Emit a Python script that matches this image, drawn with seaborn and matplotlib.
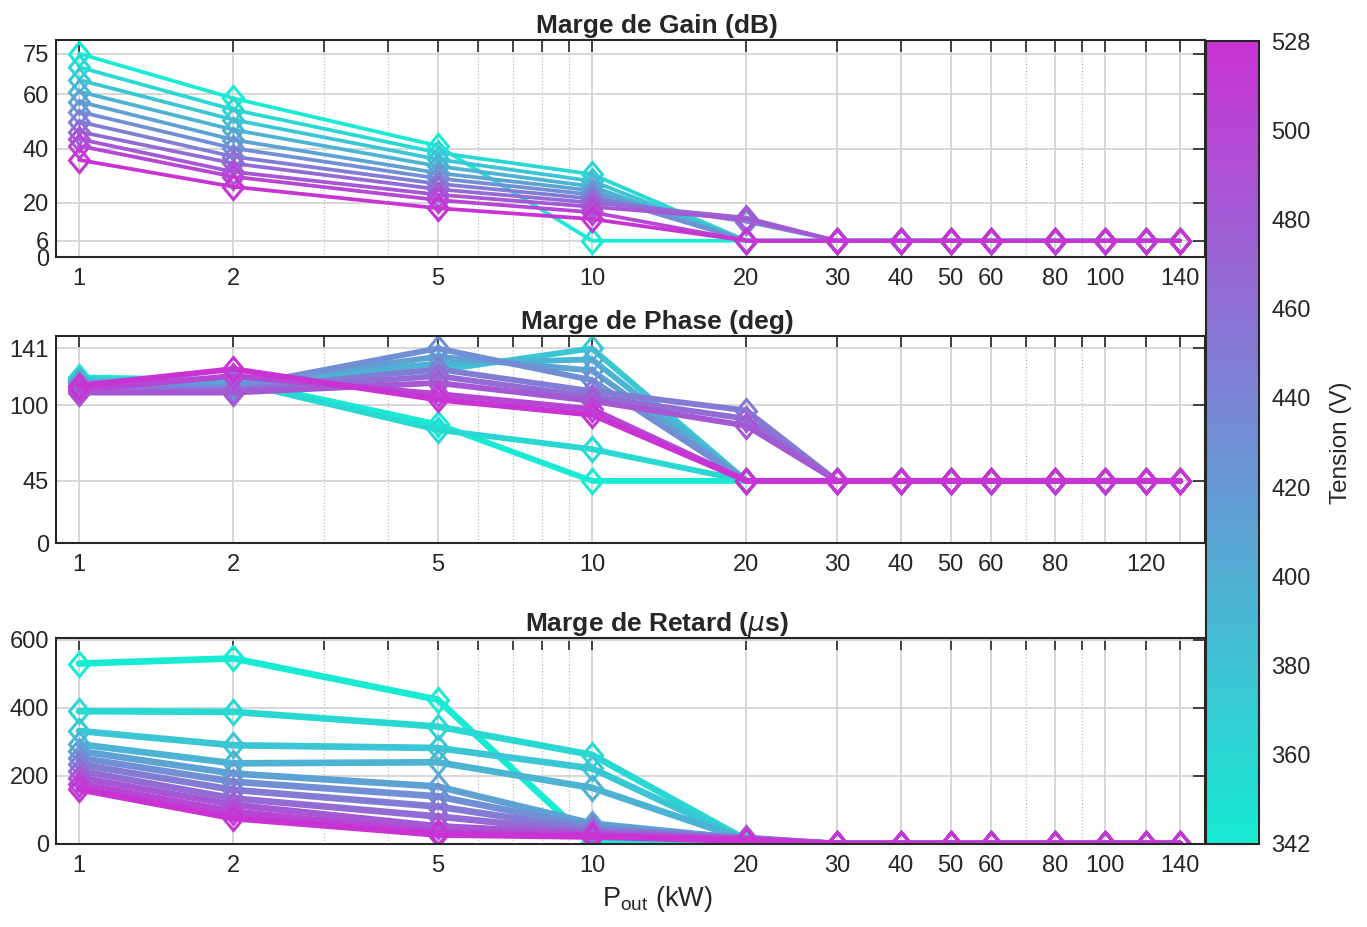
import pandas as pd
import matplotlib
matplotlib.use("Agg")
import matplotlib.pyplot as plt
import seaborn as sns
from matplotlib.colors import LinearSegmentedColormap, Normalize
from matplotlib.cm import ScalarMappable
from matplotlib.markers import MarkerStyle
from matplotlib.transforms import Affine2D
from matplotlib.ticker import FixedLocator, FixedFormatter, NullFormatter

# Puissance de sortie (kW)
p_out = [1, 2, 5, 10, 20, 30, 40, 50, 60, 80, 100, 120, 140]

# Tension du bus (V), une courbe par tension
tension = [342, 361, 379, 398, 416, 435, 454, 472, 491, 509, 528]

# Marge de gain (dB)
gain_db = [
    [75.0, 58.5, 41.0, 6.0, 6.0, 6, 6, 6, 6, 6, 6, 6, 6],
    [70.0, 54.3, 38.5, 30.5, 6.0, 6, 6, 6, 6, 6, 6, 6, 6],
    [65.3, 50.6, 36.0, 28.0, 6.0, 6, 6, 6, 6, 6, 6, 6, 6],
    [61.0, 46.9, 33.5, 26.0, 6.0, 6, 6, 6, 6, 6, 6, 6, 6],
    [57.3, 43.2, 31.0, 24.5, 6.0, 6, 6, 6, 6, 6, 6, 6, 6],
    [53.6, 40.1, 29.0, 23.0, 6.0, 6, 6, 6, 6, 6, 6, 6, 6],
    [49.9, 37.0, 27.0, 21.5, 13.0, 6, 6, 6, 6, 6, 6, 6, 6],
    [46.2, 34.5, 25.0, 20.0, 14.5, 6, 6, 6, 6, 6, 6, 6, 6],
    [43.5, 31.4, 23.0, 18.5, 14.0, 6, 6, 6, 6, 6, 6, 6, 6],
    [41.0, 29.6, 21.0, 16.5, 6.0, 6, 6, 6, 6, 6, 6, 6, 6],
    [35.8, 25.9, 18.0, 14.0, 6.0, 6, 6, 6, 6, 6, 6, 6, 6],
]

# Marge de phase (deg)
phase_deg = [
    [120, 118, 86, 45, 45, 45, 45, 45, 45, 45, 45, 45, 45],
    [119, 117, 82, 68, 45, 45, 45, 45, 45, 45, 45, 45, 45],
    [118, 116, 125, 141, 45, 45, 45, 45, 45, 45, 45, 45, 45],
    [117, 116, 130, 133, 45, 45, 45, 45, 45, 45, 45, 45, 45],
    [116, 115, 135, 125, 45, 45, 45, 45, 45, 45, 45, 45, 45],
    [114, 113, 141, 118, 45, 45, 45, 45, 45, 45, 45, 45, 45],
    [112, 111, 126, 110, 96, 45, 45, 45, 45, 45, 45, 45, 45],
    [110, 110, 121, 106, 90, 45, 45, 45, 45, 45, 45, 45, 45],
    [109, 109, 116, 103, 85, 45, 45, 45, 45, 45, 45, 45, 45],
    [111, 121, 108, 97, 45, 45, 45, 45, 45, 45, 45, 45, 45],
    [114, 126, 104, 93, 45, 45, 45, 45, 45, 45, 45, 45, 45],
]

# Marge de retard (us)
retard_us = [
    [530, 545, 424, 5, 3, 0, 0, 0, 0, 0, 0, 0, 0],
    [390, 388, 345, 262, 12, 0, 0, 0, 0, 0, 0, 0, 0],
    [332, 290, 282, 222, 10, 0, 0, 0, 0, 0, 0, 0, 0],
    [293, 237, 240, 165, 12, 0, 0, 0, 0, 0, 0, 0, 0],
    [273, 207, 169, 60, 15, 0, 0, 0, 0, 0, 0, 0, 0],
    [253, 183, 140, 50, 14, 0, 0, 0, 0, 0, 0, 0, 0],
    [234, 159, 110, 42, 18, 0, 0, 0, 0, 0, 0, 0, 0],
    [215, 134, 81, 35, 16, 0, 0, 0, 0, 0, 0, 0, 0],
    [195, 115, 52, 30, 14, 0, 0, 0, 0, 0, 0, 0, 0],
    [176, 95, 35, 25, 12, 0, 0, 0, 0, 0, 0, 0, 0],
    [161, 76, 28, 22, 10, 0, 0, 0, 0, 0, 0, 0, 0],
]

xticks_main = [1, 2, 5, 10, 20, 30, 40, 50, 60, 80, 100, 120, 140]
xlabels_gain = ["1", "2", "5", "10", "20", "30", "40", "50", "60", "80", "100", "", "140"]
xlabels_phase = ["1", "2", "5", "10", "20", "30", "40", "50", "60", "80", "", "120", ""]
xminor = [3, 4, 6, 7, 8, 9, 70, 90]

# graduations de la barre de couleur (positions / libelles)
cbar_ticks = [340, 360, 380, 400, 420, 440, 460, 480, 500, 520]
cbar_labels = ["342", "360", "380", "400", "420", "440", "460", "480", "500", "528"]


def to_long(values):
    rows = []
    for v, serie in zip(tension, values):
        for p, y in zip(p_out, serie):
            rows.append({"p_out": p, "valeur": y, "tension": v})
    return pd.DataFrame(rows)


sns.set_theme(style="white")
plt.rcParams["font.family"] = ["Liberation Sans", "DejaVu Sans"]

dark = "#262626"
cmap = LinearSegmentedColormap.from_list("tension", ["#17ebd3", "#c933d4"])
norm = Normalize(vmin=342, vmax=528)
diamond = MarkerStyle("D", fillstyle="none", transform=Affine2D().scale(0.8, 1.0))

W, H = 1367, 927
fig = plt.figure(figsize=(W / 100, H / 100), dpi=100)


def add_axes(left, top, right, bottom):
    return fig.add_axes([left / W, 1 - bottom / H, (right - left) / W, (bottom - top) / H])


ax_g = add_axes(56, 40, 1205, 257)
ax_p = add_axes(56, 336, 1205, 543)
ax_r = add_axes(56, 638, 1205, 844)
cax = add_axes(1206, 41, 1259, 844)

panels = [
    (ax_g, gain_db, "Marge de Gain (dB)", (0, 80), [0, 6, 20, 40, 60, 75], xlabels_gain, 2.7),
    (ax_p, phase_deg, "Marge de Phase (deg)", (0, 150), [0, 45, 100, 141], xlabels_phase, 4.2),
    (ax_r, retard_us, r"Marge de Retard ($\mu$s)", (0, 605), [0, 200, 400, 600], xlabels_gain, 4.8),
]

for ax, values, title, ylim, yticks, xlabels, lw in panels:
    df = to_long(values)
    sns.lineplot(data=df, x="p_out", y="valeur", hue="tension", palette=cmap,
                 hue_norm=norm, estimator=None, sort=False, legend=False, ax=ax,
                 linewidth=lw, marker=diamond, markersize=12.5, markeredgewidth=2.2)
    for line in ax.lines:
        line.set_markeredgecolor(line.get_color())

    ax.set_xscale("log")
    ax.set_xlim(0.902, 156.6)
    ax.set_ylim(*ylim)
    ax.xaxis.set_major_locator(FixedLocator(xticks_main))
    ax.xaxis.set_major_formatter(FixedFormatter(xlabels))
    ax.xaxis.set_minor_locator(FixedLocator(xminor))
    ax.xaxis.set_minor_formatter(NullFormatter())
    ax.set_yticks(yticks)
    ax.set_yticklabels([str(t) for t in yticks])

    ax.grid(True, which="major", color="#d4d4d4", linewidth=1.3)
    ax.grid(True, which="minor", axis="x", color="#bdbdbd", linewidth=0.9, linestyle=":")
    ax.set_axisbelow(True)
    ax.tick_params(which="both", direction="in", top=True, right=True, length=8.5,
                   width=1.2, color=dark, labelcolor=dark, labelsize=17)
    ax.tick_params(axis="x", which="major", pad=8)
    ax.tick_params(axis="y", which="major", pad=5)
    for s in ax.spines.values():
        s.set_color(dark)
        s.set_linewidth(1.5)
    ax.set_xlabel("")
    ax.set_ylabel("")
    ax.set_title(title, fontsize=19, fontweight="bold", x=0.523, pad=5)

ax_r.set_xlabel(r"P$_{\mathregular{out}}$ (kW)", fontsize=19.5, color=dark, x=0.523, labelpad=5)

# barre de couleur : echelle affichee 340-520, libelles d'extremite 342 / 528
sm = ScalarMappable(norm=Normalize(vmin=340, vmax=520), cmap=cmap)
cb = fig.colorbar(sm, cax=cax, ticks=cbar_ticks)
cb.set_ticklabels(cbar_labels)
cb.outline.set_edgecolor(dark)
cb.outline.set_linewidth(1.5)
cax.tick_params(direction="in", length=8.5, width=1.2, color=dark, labelcolor=dark,
                labelsize=17, pad=9)
cb.set_label("Tension (V)", fontsize=17.5, color=dark, labelpad=14)

fig.savefig("out.png", dpi=100)
